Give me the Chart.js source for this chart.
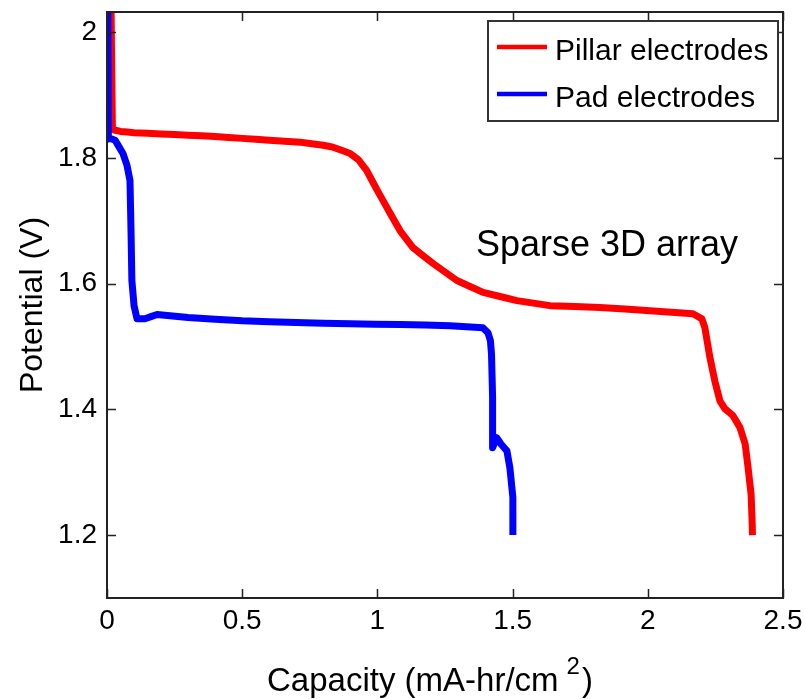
<!DOCTYPE html>
<html>
<head>
<meta charset="utf-8">
<script src="https://cdn.jsdelivr.net/npm/chart.js@4.4.1/dist/chart.umd.min.js"></script>
<style>
  html, body { margin: 0; padding: 0; background: #ffffff; }
  #wrap { width: 805px; height: 699px; position: relative; }
</style>
</head>
<body>
<div id="wrap"><canvas id="c" width="805" height="699"></canvas></div>
<script>
// ---------------- data ----------------
const seriesNames = ['Pillar electrodes', 'Pad electrodes'];

const pillarCapacity = [0.015, 0.02, 0.05, 0.1, 0.2, 0.3, 0.4, 0.5, 0.6, 0.714, 0.8, 0.836, 0.899, 0.93, 0.96, 1.0, 1.047, 1.084, 1.132, 1.206, 1.294, 1.391, 1.516, 1.638, 1.823, 2.008, 2.167, 2.2, 2.211, 2.23, 2.248, 2.267, 2.285, 2.315, 2.341, 2.36, 2.371, 2.382, 2.386, 2.387];
const pillarPotential = [2.04, 1.845, 1.842, 1.840, 1.838, 1.836, 1.834, 1.831, 1.828, 1.825, 1.820, 1.817, 1.807, 1.797, 1.780, 1.748, 1.712, 1.684, 1.657, 1.632, 1.605, 1.586, 1.573, 1.565, 1.562, 1.557, 1.552, 1.544, 1.530, 1.482, 1.445, 1.413, 1.401, 1.390, 1.371, 1.345, 1.307, 1.265, 1.220, 1.200];

const padCapacity = [0.003, 0.005, 0.011, 0.030, 0.059, 0.074, 0.085, 0.089, 0.092, 0.100, 0.111, 0.140, 0.185, 0.30, 0.50, 0.70, 0.90, 1.084, 1.268, 1.39, 1.409, 1.418, 1.422, 1.426, 1.426, 1.441, 1.457, 1.479, 1.490, 1.501, 1.501];
const padPotential = [2.04, 1.830, 1.831, 1.828, 1.807, 1.788, 1.764, 1.680, 1.605, 1.565, 1.544, 1.544, 1.551, 1.546, 1.541, 1.538, 1.536, 1.535, 1.533, 1.530, 1.522, 1.509, 1.488, 1.420, 1.339, 1.355, 1.345, 1.334, 1.307, 1.260, 1.200];

const xTickValues = [0, 0.5, 1, 1.5, 2, 2.5];
const xTickLabels = ['0', '0.5', '1', '1.5', '2', '2.5'];
const yTickValues = [1.2, 1.4, 1.6, 1.8, 2.0];
const yTickLabels = ['1.2', '1.4', '1.6', '1.8', '2'];

const xTitleMain = 'Capacity (mA-hr/cm';
const xTitleSup = '2';
const xTitleEnd = ')';
const yTitle = 'Potential (V)';
const annotationText = 'Sparse 3D array';

// ---------------- fonts ----------------
function fontAvailable(name) {
  const c = document.createElement('canvas').getContext('2d');
  c.font = '40px monospace';
  const a = c.measureText('Pillar electrodes 1.8').width;
  c.font = '40px "' + name + '", monospace';
  const b = c.measureText('Pillar electrodes 1.8').width;
  return Math.abs(a - b) > 0.5;
}
const hasNarrow = fontAvailable('Liberation Sans Narrow');
const NARROW = hasNarrow ? '"Liberation Sans Narrow", "Liberation Sans", Arial, sans-serif' : '"Liberation Sans", Arial, sans-serif';
const REG = '"Liberation Sans", Arial, sans-serif';
const tickSize = hasNarrow ? 32 : 28;
const legendSize = hasNarrow ? 37 : 30;

function toPoints(xs, ys) { return xs.map((x, i) => ({ x: x, y: ys[i] })); }
function noOverhang(scale) {
  scale.paddingTop = 0; scale.paddingBottom = 0;
  scale.paddingLeft = 0; scale.paddingRight = 0;
}

// ---------------- plugins ----------------
const bgPlugin = {
  id: 'bg',
  beforeDraw(chart) {
    const ctx = chart.ctx;
    ctx.save();
    ctx.fillStyle = '#ffffff';
    ctx.fillRect(0, 0, chart.width, chart.height);
    ctx.restore();
  }
};

const framePlugin = {
  id: 'frame',
  afterDraw(chart) {
    const ctx = chart.ctx;
    const a = chart.chartArea;
    const xs = chart.scales.x, ys = chart.scales.y;
    ctx.save();
    ctx.strokeStyle = '#222222';
    ctx.lineWidth = 2;
    ctx.strokeRect(a.left, a.top, a.right - a.left, a.bottom - a.top);
    ctx.lineWidth = 1.5;
    const tl = 9;
    ctx.beginPath();
    xTickValues.forEach(v => {
      const px = Math.round(xs.getPixelForValue(v)) + 0.5;
      ctx.moveTo(px, a.bottom); ctx.lineTo(px, a.bottom - tl);
      ctx.moveTo(px, a.top); ctx.lineTo(px, a.top + tl);
    });
    yTickValues.forEach(v => {
      const py = Math.round(ys.getPixelForValue(v)) + 0.5;
      ctx.moveTo(a.left, py); ctx.lineTo(a.left + tl, py);
      ctx.moveTo(a.right, py); ctx.lineTo(a.right - tl, py);
    });
    ctx.stroke();

    // legend box (drawn over the frame like the reference)
    const lx = 488, ly = 21, lw = 290, lh = 100;
    ctx.fillStyle = '#ffffff';
    ctx.fillRect(lx, ly, lw, lh);
    ctx.strokeStyle = '#333333';
    ctx.lineWidth = 2;
    ctx.strokeRect(lx, ly, lw, lh);
    const rows = [47, 94];
    chart.data.datasets.forEach((ds, i) => {
      ctx.strokeStyle = ds.borderColor;
      ctx.lineWidth = 4.5;
      ctx.beginPath();
      ctx.moveTo(497, rows[i]); ctx.lineTo(547, rows[i]);
      ctx.stroke();
      ctx.fillStyle = '#000000';
      ctx.font = legendSize + 'px ' + NARROW;
      ctx.textBaseline = 'alphabetic';
      ctx.textAlign = 'left';
      ctx.fillText(ds.label, 555, rows[i] + 13);
    });

    // annotation
    ctx.fillStyle = '#000000';
    ctx.font = '36px ' + REG;
    ctx.textAlign = 'left';
    ctx.textBaseline = 'alphabetic';
    ctx.fillText(annotationText, 476, 256);

    // x axis title with superscript
    ctx.font = '33px ' + REG;
    let x = 267;
    const base = 691;
    ctx.fillText(xTitleMain, x, base);
    x += ctx.measureText(xTitleMain).width + 8;
    ctx.font = '24px ' + REG;
    ctx.fillText(xTitleSup, x, base - 17);
    x += ctx.measureText(xTitleSup).width + 2;
    ctx.font = '33px ' + REG;
    ctx.fillText(xTitleEnd, x, base);
    ctx.restore();
  }
};

// ---------------- chart ----------------
new Chart(document.getElementById('c'), {
  type: 'scatter',
  data: {
    datasets: [
      {
        label: seriesNames[0],
        data: toPoints(pillarCapacity, pillarPotential),
        showLine: true,
        borderColor: '#ff0000',
        backgroundColor: '#ff0000',
        borderWidth: 7,
        pointRadius: 0,
        tension: 0.0001,
        borderJoinStyle: 'round',
        order: 1,
        clip: 0
      },
      {
        label: seriesNames[1],
        data: toPoints(padCapacity, padPotential),
        showLine: true,
        borderColor: '#0000ff',
        backgroundColor: '#0000ff',
        borderWidth: 7,
        pointRadius: 0,
        tension: 0.0001,
        borderJoinStyle: 'round',
        order: 0,
        clip: 0
      }
    ]
  },
  options: {
    responsive: false,
    animation: false,
    devicePixelRatio: 1,
    layout: { padding: { left: 0, top: 12, right: 22, bottom: 0 } },
    plugins: { legend: { display: false }, tooltip: { enabled: false }, title: { display: false } },
    scales: {
      x: {
        type: 'linear',
        min: 0, max: 2.5,
        afterBuildTicks(scale) { scale.ticks = xTickValues.map(v => ({ value: v })); },
        afterFit(scale) { scale.height = 101; noOverhang(scale); },
        grid: { display: false, drawTicks: false },
        border: { display: false },
        ticks: {
          padding: 9,
          color: '#000000',
          maxRotation: 0,
          font: { family: NARROW, size: tickSize, lineHeight: 1 },
          callback(value, index) { return xTickLabels[index]; }
        }
      },
      y: {
        type: 'linear',
        min: 1.1, max: 2.032,
        afterBuildTicks(scale) { scale.ticks = yTickValues.map(v => ({ value: v })); },
        afterFit(scale) { scale.width = 107; noOverhang(scale); },
        grid: { display: false, drawTicks: false },
        border: { display: false },
        ticks: {
          padding: 10,
          color: '#000000',
          font: { family: NARROW, size: tickSize, lineHeight: 1 },
          callback(value, index) { return yTickLabels[index]; }
        },
        title: {
          display: true,
          text: yTitle,
          color: '#000000',
          font: { family: REG, size: 32, lineHeight: 1.2 },
          padding: { top: 14, bottom: 0 }
        }
      }
    }
  },
  plugins: [bgPlugin, framePlugin]
});
</script>
</body>
</html>
